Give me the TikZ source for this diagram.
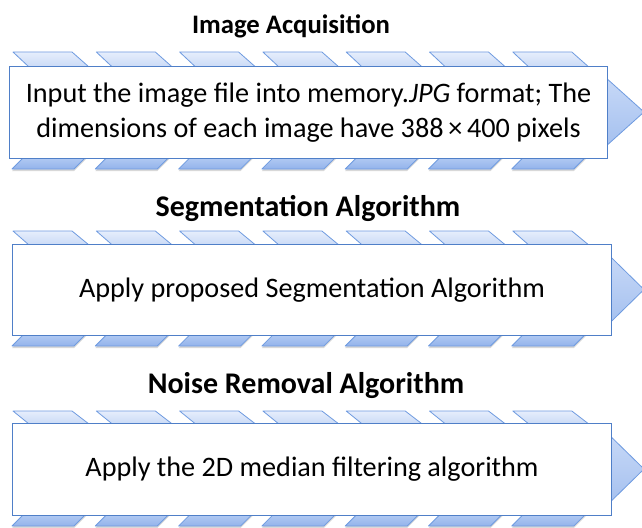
\documentclass[tikz,border=0pt]{standalone}
\usepackage{fontspec}
\setmainfont{Carlito}
\usetikzlibrary{shadows}
\definecolor{plgline}{HTML}{6F9BE0}
\definecolor{boxline}{HTML}{4F7FC8}
\definecolor{toplight}{HTML}{E6EEFC}
\definecolor{topdark}{HTML}{CADAF6}
\definecolor{botlight}{HTML}{B3CBF3}
\definecolor{botdark}{HTML}{93B3EB}
\definecolor{chevlight}{HTML}{CCDCF8}
\definecolor{chevdark}{HTML}{A0BDEE}
\begin{document}
\begin{tikzpicture}[x=1pt,y=-1pt,
  topplg/.style={draw=plgline, line width=0.8pt, top color=toplight, bottom color=topdark, line join=round},
  botplg/.style={draw=plgline, line width=0.8pt, top color=botlight, bottom color=botdark, line join=round,
     drop shadow={shadow xshift=0pt, shadow yshift=-2pt, opacity=0.25, fill=black!60}},
  chev/.style={draw=plgline, line width=0.8pt, top color=chevlight, bottom color=chevdark, line join=round},
  stagebox/.style={draw=boxline, line width=1pt, fill=white, inner sep=0pt},
  title/.style={font=\fontsize{30}{34}\selectfont\bfseries, inner sep=0pt},
  body/.style={font=\fontsize{28.2}{35}\selectfont, align=center, inner sep=0pt}]
\useasboundingbox (0,0) rectangle (642,527);
\fill[white] (0,0) rectangle (642,527);

% #1 box left, #2 box right, #3 box top, #4 box bottom, #5 parallelogram top y
\newcommand{\stagebg}[5]{%
  \pgfmathsetmacro{\yc}{(#3+#4)/2}
  \path[chev] (#2-12,\yc-33-11) -- (644,\yc) -- (#2-12,\yc+33+11) -- cycle;
  \foreach \i in {0,...,6}{
    \pgfmathsetmacro{\xa}{13+83.3*\i}
    \path[topplg] (\xa,#5) -- (\xa+59,#5) -- (\xa+76,#3+1) -- (\xa+16,#3+1) -- cycle;
    \pgfmathsetmacro{\xb}{12+83.3*\i}
    \path[botplg] (\xb+12,#4-1) -- (\xb+74,#4-1) -- (\xb+62,#4+11) -- (\xb,#4+11) -- cycle;
  }
}

% ---------- Stage 1 ----------
\node[title, font=\fontsize{26.7}{30}\selectfont\bfseries] (t1) at (291,26) {Image Acquisition};
\stagebg{9}{607}{66}{158}{52}
\node[stagebox, minimum width=598pt, minimum height=92pt, anchor=north west] (b1) at (9,66) {};
\node[body] (l1) at (b1.center) {Input the image file into memory.\textit{JPG} format; The\\dimensions of each image have 388\,×\,400 pixels};

% ---------- Stage 2 ----------
\node[title] (t2) at (308,208) {Segmentation Algorithm};
\stagebg{12}{611}{244}{335}{231}
\node[stagebox, minimum width=599pt, minimum height=91pt, anchor=north west] (b2) at (12,244) {};
\node[body] (l2) at (b2.center) {Apply proposed Segmentation Algorithm};

% ---------- Stage 3 ----------
\node[title] (t3) at (306,386) {Noise Removal Algorithm};
\stagebg{12}{611}{423}{515}{411}
\node[stagebox, minimum width=599pt, minimum height=92pt, anchor=north west] (b3) at (12,423) {};
\node[body] (l3) at (b3.center) {Apply the 2D median filtering algorithm};
\end{tikzpicture}
\end{document}
